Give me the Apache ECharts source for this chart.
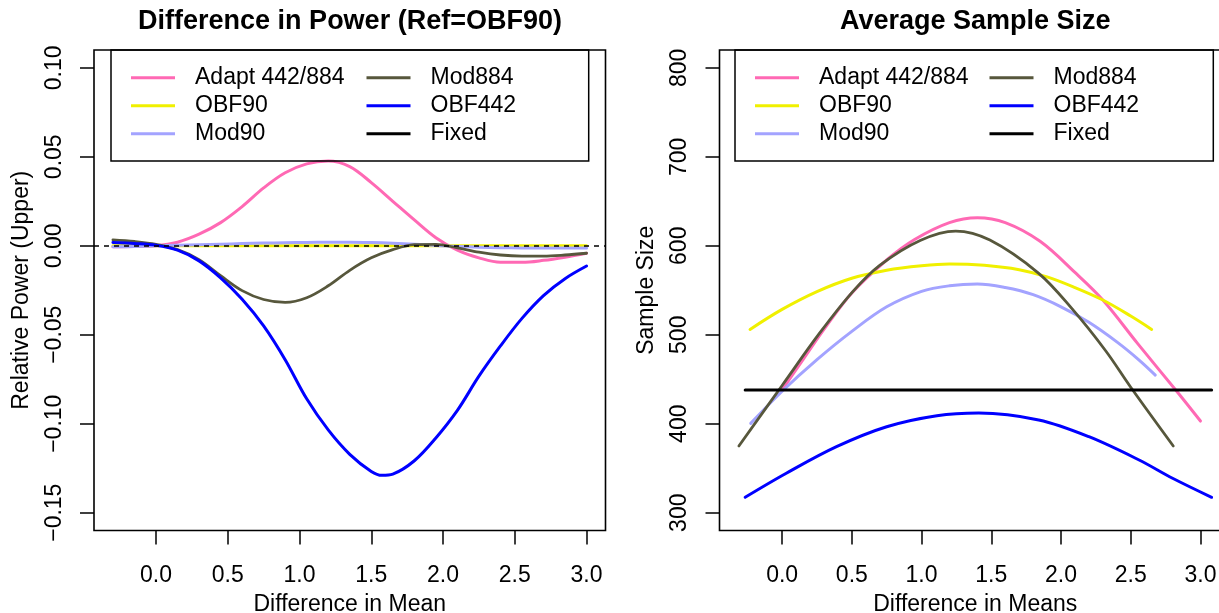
<!DOCTYPE html>
<html>
<head>
<meta charset="utf-8">
<script src="https://cdn.jsdelivr.net/npm/echarts@6/dist/echarts.min.js"></script>
<style>
html,body{margin:0;padding:0;background:#ffffff;}
#chart{width:1219px;height:613px;}
</style>
</head>
<body>
<div id="chart"></div>
<script>
// ---------------- DATA ----------------
const seriesNames = ['Adapt 442/884', 'OBF90', 'Mod90', 'Mod884', 'OBF442', 'Fixed'];
const legendCol1 = ['Adapt 442/884', 'OBF90', 'Mod90'];
const legendCol2 = ['Mod884', 'OBF442', 'Fixed'];

const titleLeft = 'Difference in Power (Ref=OBF90)';
const titleRight = 'Average Sample Size';
const xNameLeft = 'Difference in Mean';
const xNameRight = 'Difference in Means';
const yNameLeft = 'Relative Power (Upper)';
const yNameRight = 'Sample Size';

const xTicks = [0, 0.5, 1.0, 1.5, 2.0, 2.5, 3.0];
const powerTicks = [-0.15, -0.10, -0.05, 0.00, 0.05, 0.10];
const sizeTicks = [300, 400, 500, 600, 700, 800];

// Left panel: relative power vs difference in mean
const powerX = [-0.3, -0.15, 0.0, 0.15, 0.3, 0.45, 0.6, 0.75, 0.9, 1.05, 1.2, 1.35, 1.5, 1.65, 1.8, 1.95, 2.1, 2.25, 2.4, 2.55, 2.7, 2.85, 3.0];
const powerAdapt = [-0.0005, -0.0004, 0.0, 0.002, 0.0065, 0.013, 0.022, 0.0325, 0.041, 0.046, 0.0476, 0.0445, 0.0355, 0.025, 0.0145, 0.0045, -0.0025, -0.0068, -0.0093, -0.0093, -0.0082, -0.0064, -0.0042];
const powerOBF90 = [0, 0, 0, 0, 0, 0, 0, 0, 0, 0, 0, 0, 0, 0, 0, 0, 0, 0, 0, 0, 0, 0, 0];
const powerMod90 = [-0.0006, -0.0004, 0.0, 0.0003, 0.0006, 0.0009, 0.0012, 0.0015, 0.0017, 0.0019, 0.002, 0.002, 0.0018, 0.0014, 0.0008, 0.0002, -0.0004, -0.0008, -0.0011, -0.0012, -0.0013, -0.0013, -0.0013];
const powerMod884 = [0.0033, 0.0024, 0.0008, -0.0022, -0.0078, -0.0168, -0.0252, -0.0302, -0.0318, -0.0292, -0.0225, -0.0138, -0.0068, -0.0022, 0.0006, 0.0008, -0.0012, -0.0036, -0.0052, -0.0058, -0.0058, -0.0052, -0.0042];
const obf442X = [-0.3, -0.15, 0.0, 0.15, 0.3, 0.45, 0.6, 0.75, 0.9, 1.05, 1.2, 1.35, 1.5, 1.575, 1.65, 1.8, 1.95, 2.1, 2.25, 2.4, 2.55, 2.7, 2.85, 3.0];
const powerOBF442 = [0.0019, 0.0013, 0.0003, -0.0025, -0.0085, -0.018, -0.030, -0.045, -0.064, -0.086, -0.1035, -0.1172, -0.1268, -0.1290, -0.1283, -0.1208, -0.108, -0.0925, -0.0733, -0.0563, -0.0408, -0.0280, -0.0185, -0.0114];
const powerRefLine = 0;

// Right panel: average sample size vs difference in means
const sizeAdaptX = [0.0, 0.15, 0.3, 0.5, 0.75, 0.95, 1.2, 1.4, 1.6, 1.85, 2.1, 2.3, 2.55, 2.84, 3.0];
const sizeAdaptY = [438, 472, 506, 547, 584, 607, 626, 631.5, 626, 605, 570, 539, 490, 434.5, 403];
const sizeOBF90X = [-0.23, 0.0, 0.25, 0.5, 0.75, 1.0, 1.2, 1.45, 1.7, 1.9, 2.1, 2.3, 2.5, 2.65];
const sizeOBF90Y = [506, 528.5, 548.5, 563.5, 572.5, 577.5, 579.5, 578, 573, 565, 553, 539, 521, 506];
const sizeMod90X = [-0.225, 0.0, 0.25, 0.5, 0.75, 1.0, 1.2, 1.4, 1.6, 1.8, 2.0, 2.2, 2.4, 2.56, 2.676];
const sizeMod90Y = [400.4, 436.5, 472, 503.8, 531.4, 548.8, 555, 557, 553, 545, 531.4, 514, 492, 471.6, 454.7];
const sizeMod884X = [-0.31, 0.0, 0.27, 0.51, 0.7, 0.99, 1.245, 1.49, 1.84, 2.08, 2.32, 2.5, 2.805];
const sizeMod884Y = [375, 443, 502, 549, 578, 606, 616.5, 606.4, 569, 529, 482, 441, 375];
const sizeOBF442X = [-0.265, 0.03, 0.39, 0.75, 1.11, 1.41, 1.84, 2.2, 2.56, 2.8, 3.08];
const sizeOBF442Y = [317.3, 344.3, 374.2, 396.6, 409, 412, 404.2, 385.4, 359.2, 338.7, 317.3];
const sizeFixedX = [-0.265, 3.08];
const sizeFixedY = [437.8, 437.8];

// ---------------- STYLE ----------------
const FONT = '"Liberation Sans", Arial, Helvetica, sans-serif';
const COLORS = {
  'Adapt 442/884': '#ff69b4',
  'OBF90': '#f0f000',
  'Mod90': '#a3a3ff',
  'Mod884': '#57573c',
  'OBF442': '#0000ff',
  'Fixed': '#000000'
};
const WIDTHS = {'Adapt 442/884': 3, 'OBF90': 3, 'Mod90': 3, 'Mod884': 2.8, 'OBF442': 3, 'Fixed': 3};

const G = [
  {left: 94, top: 50, width: 511.5, height: 480.5},
  {left: 719.5, top: 50, width: 511.5, height: 480.5}
];

function pairs(xs, ys) { return xs.map((x, i) => [x, ys[i]]); }
function fmtMinus(s) { return s.replace('-', '\u2212'); }

function lineSeries(name, data, gi, extra) {
  const s = {
    type: 'line', name: name, xAxisIndex: gi, yAxisIndex: gi,
    data: data, symbol: 'none', showSymbol: false, smooth: 0.35,
    color: COLORS[name],
    itemStyle: {color: COLORS[name]},
    lineStyle: {color: COLORS[name], width: WIDTHS[name], cap: 'round', join: 'round'},
    emphasis: {disabled: true}, silent: true, animation: false
  };
  return Object.assign(s, extra || {});
}

const textBase = {color: '#000', fontFamily: FONT, fontSize: 23, lineHeight: 23};

function xAxisCfg(gi, min, max, name) {
  return {
    type: 'value', gridIndex: gi, min: min, max: max, position: 'bottom',
    axisLine: {show: false, onZero: false}, splitLine: {show: false},
    axisTick: {show: true, inside: false, length: 14, customValues: xTicks, lineStyle: {color: '#000', width: 1.5}},
    axisLabel: Object.assign({customValues: xTicks, margin: 34, formatter: v => fmtMinus(v.toFixed(1))}, textBase),
    name: name, nameLocation: 'middle', nameGap: 63,
    nameTextStyle: Object.assign({}, textBase)
  };
}
function yAxisCfg(gi, min, max, ticks, dec, name) {
  return {
    type: 'value', gridIndex: gi, min: min, max: max, position: 'left',
    axisLine: {show: false, onZero: false}, splitLine: {show: false},
    axisTick: {show: true, inside: false, length: 14, customValues: ticks, lineStyle: {color: '#000', width: 1.5}},
    axisLabel: Object.assign({customValues: ticks, margin: 28, rotate: 90, formatter: v => fmtMinus(v.toFixed(dec))}, textBase),
    name: name, nameLocation: 'middle', nameGap: 61, nameRotate: 90,
    nameTextStyle: Object.assign({}, textBase)
  };
}

function legendCfg(names, left) {
  return {
    data: names, left: left, top: 63.7, orient: 'vertical',
    icon: 'rect', itemWidth: 44, itemHeight: 3, itemGap: 0, padding: 0,
    selectedMode: false,
    textStyle: {color: '#000', fontFamily: FONT, fontSize: 23, lineHeight: 28, padding: [0, 0, 0, 15]}
  };
}

const chart = echarts.init(document.getElementById('chart'), null, {renderer: 'canvas'});

const option = {
  animation: false,
  backgroundColor: '#ffffff',
  grid: G.map(g => Object.assign({show: true, borderColor: '#000', borderWidth: 1.6, backgroundColor: 'transparent', containLabel: false, outerBoundsMode: 'none'}, g)),
  xAxis: [
    xAxisCfg(0, -0.432, 3.132, xNameLeft),
    xAxisCfg(1, -0.449, 3.219, xNameRight)
  ],
  yAxis: [
    yAxisCfg(0, -0.16, 0.11, powerTicks, 2, yNameLeft),
    yAxisCfg(1, 280, 820, sizeTicks, 0, yNameRight)
  ],
  legend: [
    legendCfg(legendCol1, G[0].left + 37),
    legendCfg(legendCol2, G[0].left + 272.5),
    legendCfg(legendCol1, G[1].left + 35.5),
    legendCfg(legendCol2, G[1].left + 270)
  ],
  graphic: [
    {type: 'text', x: 350, y: 22, silent: true,
     style: {text: titleLeft, fontSize: 27, fontWeight: 'bold', fontFamily: FONT, fill: '#000', align: 'center', verticalAlign: 'middle'}},
    {type: 'text', x: 975.2, y: 22, silent: true,
     style: {text: titleRight, fontSize: 27, fontWeight: 'bold', fontFamily: FONT, fill: '#000', align: 'center', verticalAlign: 'middle'}},
    {type: 'rect', silent: true, z: 50,
     shape: {x: 111, y: 50, width: 477.7, height: 111},
     style: {fill: 'none', stroke: '#000', lineWidth: 1.5}},
    {type: 'rect', silent: true, z: 50,
     shape: {x: 735, y: 50, width: 478.3, height: 111},
     style: {fill: 'none', stroke: '#000', lineWidth: 1.5}}
  ],
  series: [
    lineSeries('Adapt 442/884', pairs(powerX, powerAdapt), 0),
    lineSeries('OBF90', pairs(powerX, powerOBF90), 0),
    lineSeries('Mod90', pairs(powerX, powerMod90), 0),
    lineSeries('Mod884', pairs(powerX, powerMod884), 0),
    lineSeries('OBF442', pairs(obf442X, powerOBF442), 0, {
      markLine: {
        silent: true, symbol: ['none', 'none'], animation: false,
        label: {show: false},
        lineStyle: {color: '#000', width: 1.5, type: [5, 5]},
        emphasis: {disabled: true},
        data: [{yAxis: powerRefLine}]
      }
    }),
    lineSeries('Adapt 442/884', pairs(sizeAdaptX, sizeAdaptY), 1),
    lineSeries('OBF90', pairs(sizeOBF90X, sizeOBF90Y), 1),
    lineSeries('Mod90', pairs(sizeMod90X, sizeMod90Y), 1),
    lineSeries('Mod884', pairs(sizeMod884X, sizeMod884Y), 1),
    lineSeries('OBF442', pairs(sizeOBF442X, sizeOBF442Y), 1),
    lineSeries('Fixed', pairs(sizeFixedX, sizeFixedY), 1, {smooth: false})
  ]
};
chart.setOption(option);
</script>
</body>
</html>
